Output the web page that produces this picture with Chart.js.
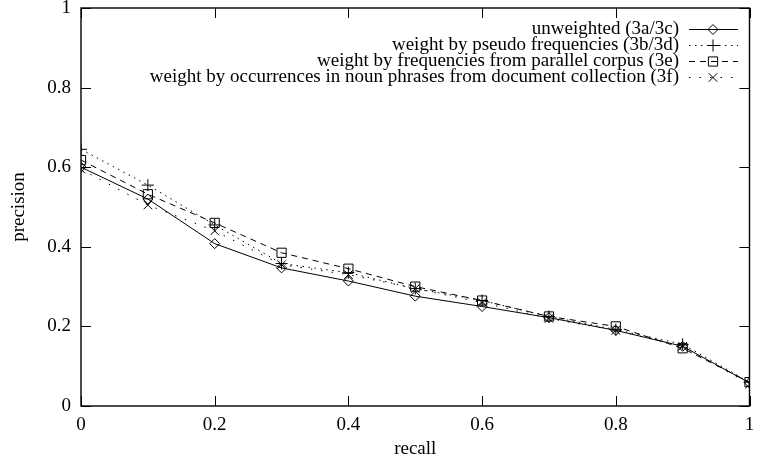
<!DOCTYPE html>
<html>
<head>
<meta charset="utf-8">
<script src="https://cdn.jsdelivr.net/npm/chart.js@4.4.1/dist/chart.umd.min.js"></script>
<style>
  html, body { margin: 0; padding: 0; background: #fff; }
  #c { display: block; }
</style>
</head>
<body>
<canvas id="c" width="757" height="464"></canvas>
<script>
// ===== DATA =====
const recall = [0, 0.1, 0.2, 0.3, 0.4, 0.5, 0.6, 0.7, 0.8, 0.9, 1.0];
const unweighted = [0.600, 0.520, 0.408, 0.347, 0.314, 0.276, 0.250, 0.222, 0.190, 0.150, 0.058];
const pseudoFreq = [0.645, 0.555, 0.455, 0.358, 0.335, 0.295, 0.265, 0.225, 0.192, 0.155, 0.060];
const parallelCorpus = [0.618, 0.532, 0.460, 0.385, 0.345, 0.300, 0.265, 0.225, 0.200, 0.145, 0.060];
const nounPhrases = [0.595, 0.505, 0.440, 0.355, 0.330, 0.295, 0.260, 0.220, 0.190, 0.150, 0.055];
const seriesLabels = [
  'unweighted (3a/3c)',
  'weight by pseudo frequencies (3b/3d)',
  'weight by frequencies from parallel corpus (3e)',
  'weight by occurrences in noun phrases from document collection (3f)'
];
const tickValues = [0, 0.2, 0.4, 0.6, 0.8, 1];

const FONT = '"Liberation Serif", "DejaVu Serif", serif';
const FSIZE = 19;
const pts = ys => recall.map((x, i) => ({ x: x, y: ys[i] }));

const styles = [
  { pointStyle: 'rectRot', radius: 5, dash: [] },
  { pointStyle: 'cross', radius: 6, dash: [1.5, 4.5] },
  { pointStyle: 'rect', radius: 6.5, dash: [6, 5] },
  { pointStyle: 'crossRot', radius: 6, dash: [1.5, 9] }
];
const seriesData = [unweighted, pseudoFreq, parallelCorpus, nounPhrases];

// ===== FRAME / TICKS / LEGEND (gnuplot look) =====
const framePlugin = {
  id: 'frame',
  afterDraw(chart) {
    const ctx = chart.ctx, a = chart.chartArea;
    const xs = chart.scales.x, ys = chart.scales.y;
    ctx.save();
    ctx.strokeStyle = '#000'; ctx.lineWidth = 1.4; ctx.setLineDash([]);
    ctx.strokeRect(a.left, a.top, a.right - a.left, a.bottom - a.top);
    ctx.lineWidth = 1;
    ctx.beginPath();
    tickValues.forEach(v => {
      const px = Math.round(xs.getPixelForValue(v)) + 0.5;
      ctx.moveTo(px, a.bottom); ctx.lineTo(px, a.bottom - 10);
      ctx.moveTo(px, a.top); ctx.lineTo(px, a.top + 10);
      const py = Math.round(ys.getPixelForValue(v)) + 0.5;
      ctx.moveTo(a.left, py); ctx.lineTo(a.left + 10, py);
      ctx.moveTo(a.right, py); ctx.lineTo(a.right - 10, py);
    });
    ctx.stroke();

    // axis titles
    ctx.fillStyle = '#000';
    ctx.font = FSIZE + 'px ' + FONT;
    ctx.textAlign = 'center'; ctx.textBaseline = 'middle';
    ctx.fillText('recall', (a.left + a.right) / 2, 449);
    ctx.save();
    ctx.translate(19, (a.top + a.bottom) / 2);
    ctx.rotate(-Math.PI / 2);
    ctx.fillText('precision', 0, 0);
    ctx.restore();

    // legend
    const rowY = [29, 45, 61, 77];
    seriesLabels.forEach((label, i) => {
      const y = rowY[i];
      ctx.fillStyle = '#000';
      ctx.textAlign = 'right'; ctx.textBaseline = 'middle';
      ctx.fillText(label, 679, y);
      ctx.setLineDash(styles[i].dash);
      ctx.beginPath(); ctx.moveTo(689, y + 0.5); ctx.lineTo(738, y + 0.5); ctx.stroke();
      ctx.setLineDash([]);
      ctx.fillStyle = 'rgba(0,0,0,0)';
      Chart.helpers.drawPoint(ctx, {
        pointStyle: styles[i].pointStyle, radius: styles[i].radius, borderWidth: 1, rotation: 0
      }, 713, y + 0.5);
    });
    ctx.restore();
  }
};

new Chart(document.getElementById('c'), {
  type: 'line',
  data: {
    datasets: seriesData.map((ys, i) => ({
      label: seriesLabels[i],
      data: pts(ys),
      borderColor: '#000',
      backgroundColor: 'rgba(0,0,0,0)',
      borderWidth: 1,
      borderDash: styles[i].dash,
      pointStyle: styles[i].pointStyle,
      pointRadius: styles[i].radius,
      pointBorderColor: '#000',
      pointBackgroundColor: 'rgba(0,0,0,0)',
      pointBorderWidth: 1,
      tension: 0,
      fill: false
    }))
  },
  options: {
    responsive: false,
    animation: false,
    events: [],
    layout: { padding: { left: 0, top: 8, right: 4, bottom: 0 } },
    plugins: { legend: { display: false }, tooltip: { enabled: false } },
    scales: {
      x: {
        type: 'linear', min: 0, max: 1,
        afterBuildTicks: s => { s.ticks = tickValues.map(v => ({ value: v })); },
        afterFit: s => { s.height = 58; s.paddingLeft = 0; s.paddingRight = 0; },
        grid: { display: false, drawTicks: false },
        border: { display: false },
        ticks: { color: '#000', font: { family: FONT, size: FSIZE }, padding: 8, maxRotation: 0,
                 callback: v => String(+v.toFixed(1)) }
      },
      y: {
        type: 'linear', min: 0, max: 1,
        afterBuildTicks: s => { s.ticks = tickValues.map(v => ({ value: v })); },
        afterFit: s => { s.width = 81; s.paddingTop = 0; s.paddingBottom = 0; },
        grid: { display: false, drawTicks: false },
        border: { display: false },
        ticks: { color: '#000', font: { family: FONT, size: FSIZE }, padding: 10,
                 callback: v => String(+v.toFixed(1)) }
      }
    }
  },
  plugins: [framePlugin]
});
</script>
</body>
</html>
